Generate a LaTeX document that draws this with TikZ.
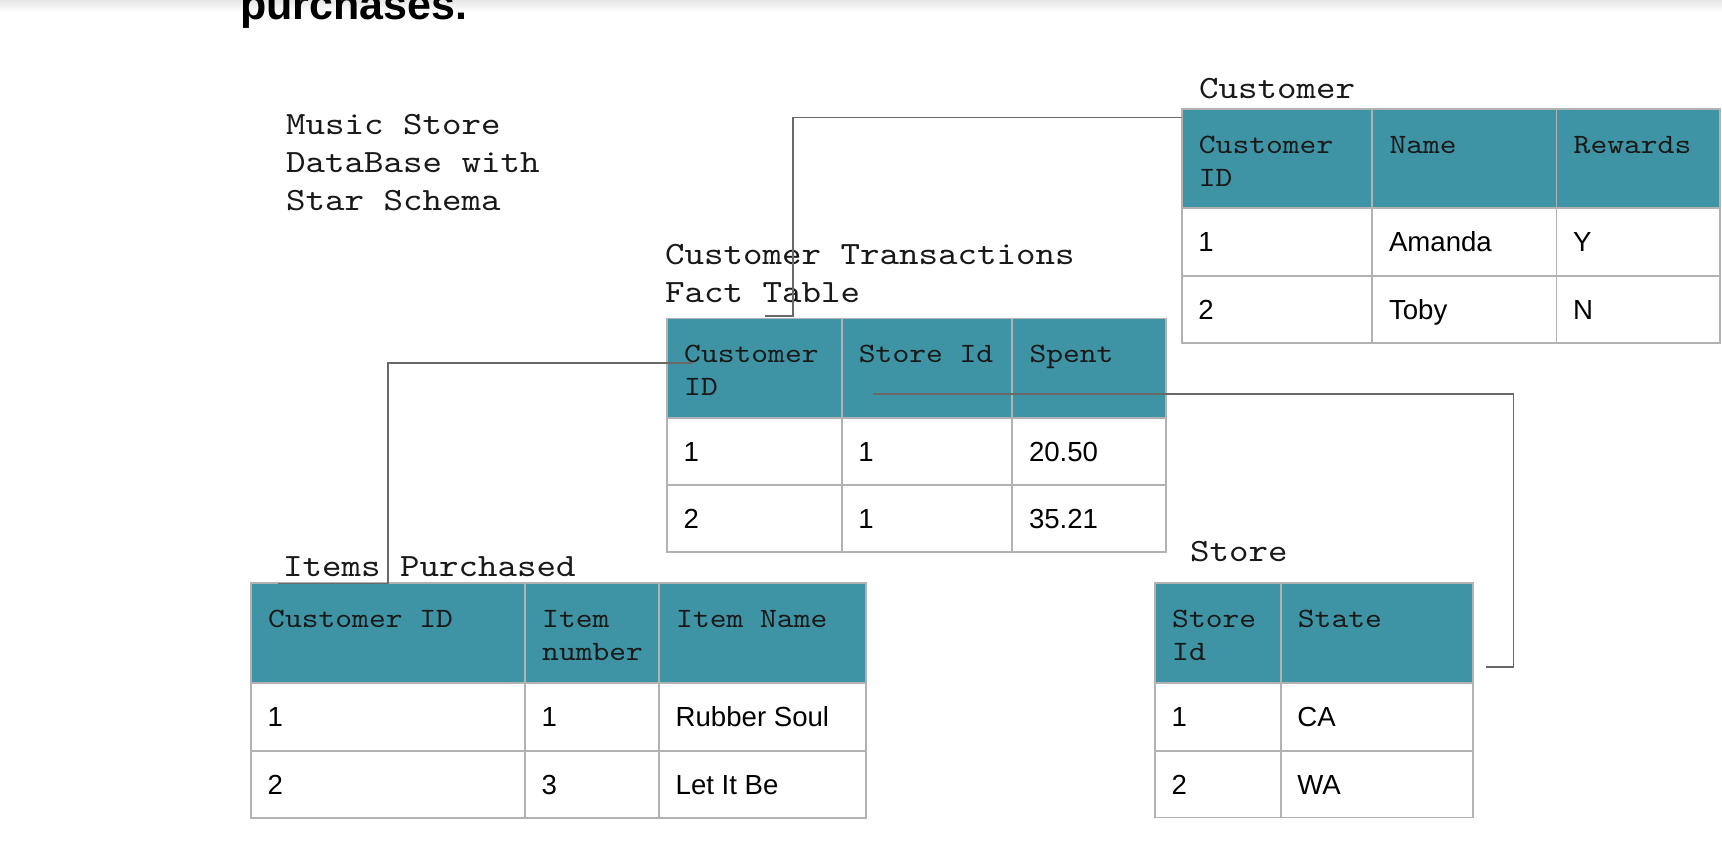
\documentclass[tikz,border=0pt]{standalone}
\usepackage{fontspec}
\setmainfont{Liberation Sans}
\newfontfamily\dbmono{lmmono10-regular.otf}[FakeStretch=1.143]
\definecolor{hdrteal}{RGB}{62,148,165}
\definecolor{gridgray}{RGB}{178,178,178}
\definecolor{conngray}{RGB}{105,105,105}
\tikzset{
  hcell/.style={draw=gridgray, fill=hdrteal, line width=1.8pt, inner sep=0pt, outer sep=0pt},
  bcell/.style={draw=gridgray, fill=white, line width=1.8pt, inner sep=0pt, outer sep=0pt},
  hcelltxt/.style={inner sep=0pt, anchor=base west, xshift=17pt, yshift=-44.5pt,
    font=\dbmono\fontsize{28}{32.7}\selectfont, text=black!90},
  bcelltxt/.style={inner sep=0pt, anchor=base west, xshift=16.5pt, yshift=-43.5pt,
    font=\fontsize{27.6}{32}\selectfont, text=black},
  lbl/.style={inner sep=0pt, anchor=base west, font=\dbmono\fontsize{32.5}{37.8}\selectfont, text=black!90},
  titletxt/.style={inner sep=0pt, anchor=base west, font=\bfseries\fontsize{43}{50}\selectfont},
  conn/.style={draw=conngray, line width=1.6pt},
}
\newcommand\dbcell[8]{%
  \node[#2, anchor=north west, minimum width=#5pt, minimum height=#6pt] (#1) at (#3,#4) {};
  \node[#2txt] (#1-a) at (#1.north west) {#7};
  \node[#2txt, yshift=-32.7pt] (#1-b) at (#1.north west) {#8};
}
\begin{document}
\begin{tikzpicture}[x=1pt,y=-1pt]
\useasboundingbox (0,0) rectangle (1722,858);
\clip (0,0) rectangle (1722,858);
\fill[white] (0,0) rectangle (1722,858);
\shade[top color=black!10, bottom color=white] (0,0) rectangle (1722,12);

% title
\node[titletxt] (title) at (240,20) {purchases.};

% labels
\node[lbl] (lblA1) at (286,135) {Music Store};
\node[lbl] (lblA2) at (286,172.7) {DataBase with};
\node[lbl] (lblA3) at (286,210.7) {Star Schema};
\node[lbl] (lblF1) at (665,264.5) {Customer Transactions};
\node[lbl] (lblF2) at (665,302.5) {Fact Table};
\node[lbl] (lblC) at (1199,98.3) {Customer};
\node[lbl] (lblI) at (283,576) {Items Purchased};
\node[lbl] (lblS) at (1190,561) {Store};

% Customer table
\dbcell{ct-h1}{hcell}{1181.7}{109.3}{190.6}{99}{Customer}{ID}
\dbcell{ct-h2}{hcell}{1372.3}{109.3}{184.2}{99}{Name}{}
\dbcell{ct-h3}{hcell}{1556.5}{109.3}{163.5}{99}{Rewards}{}
\dbcell{ct-r1c1}{bcell}{1181.7}{208.3}{190.6}{67.4}{1}{}
\dbcell{ct-r1c2}{bcell}{1372.3}{208.3}{184.2}{67.4}{Amanda}{}
\dbcell{ct-r1c3}{bcell}{1556.5}{208.3}{163.5}{67.4}{Y}{}
\dbcell{ct-r2c1}{bcell}{1181.7}{275.7}{190.6}{67}{2}{}
\dbcell{ct-r2c2}{bcell}{1372.3}{275.7}{184.2}{67}{Toby}{}
\dbcell{ct-r2c3}{bcell}{1556.5}{275.7}{163.5}{67}{N}{}

% Fact table
\dbcell{ft-h1}{hcell}{667}{318.5}{174.7}{99.8}{Customer}{ID}
\dbcell{ft-h2}{hcell}{841.7}{318.5}{170.6}{99.8}{Store Id}{}
\dbcell{ft-h3}{hcell}{1012.3}{318.5}{153.4}{99.8}{Spent}{}
\dbcell{ft-r1c1}{bcell}{667}{418.3}{174.7}{66.7}{1}{}
\dbcell{ft-r1c2}{bcell}{841.7}{418.3}{170.6}{66.7}{1}{}
\dbcell{ft-r1c3}{bcell}{1012.3}{418.3}{153.4}{66.7}{20.50}{}
\dbcell{ft-r2c1}{bcell}{667}{485}{174.7}{67.3}{2}{}
\dbcell{ft-r2c2}{bcell}{841.7}{485}{170.6}{67.3}{1}{}
\dbcell{ft-r2c3}{bcell}{1012.3}{485}{153.4}{67.3}{35.21}{}

% Items table
\dbcell{it-h1}{hcell}{251}{583.3}{274}{100}{Customer ID}{}
\dbcell{it-h2}{hcell}{525}{583.3}{134}{100}{Item}{number}
\dbcell{it-h3}{hcell}{659}{583.3}{206.7}{100}{Item Name}{}
\dbcell{it-r1c1}{bcell}{251}{683.3}{274}{67.7}{1}{}
\dbcell{it-r1c2}{bcell}{525}{683.3}{134}{67.7}{1}{}
\dbcell{it-r1c3}{bcell}{659}{683.3}{206.7}{67.7}{Rubber Soul}{}
\dbcell{it-r2c1}{bcell}{251}{751}{274}{67.3}{2}{}
\dbcell{it-r2c2}{bcell}{525}{751}{134}{67.3}{3}{}
\dbcell{it-r2c3}{bcell}{659}{751}{206.7}{67.3}{Let It Be}{}

% Store table
\dbcell{st-h1}{hcell}{1155}{583.3}{125.7}{100}{Store}{Id}
\dbcell{st-h2}{hcell}{1280.7}{583.3}{192.6}{100}{State}{}
\dbcell{st-r1c1}{bcell}{1155}{683.3}{125.7}{67.7}{1}{}
\dbcell{st-r1c2}{bcell}{1280.7}{683.3}{192.6}{67.7}{CA}{}
\dbcell{st-r2c1}{bcell}{1155}{751}{125.7}{66.5}{2}{}
\dbcell{st-r2c2}{bcell}{1280.7}{751}{192.6}{66.5}{WA}{}

% connectors
\coordinate (j1) at (792.7,316);
\coordinate (e1) at (765,316);
\draw[conn] ([yshift=-8.4pt]ct-h1.north west) -| (j1) -- (e1);

\coordinate (e2) at (278.3,583.3);
\coordinate (j2) at (387.7,363.3);
\coordinate (f2) at (693.3,363.3);
\draw[conn] (e2) -| (j2) -- (f2);

\coordinate (s3) at (873.3,394.3);
\coordinate (j3) at (1513.3,666.7);
\coordinate (e3) at (1486,666.7);
\draw[conn] (s3) -| (j3) -- (e3);
\end{tikzpicture}
\end{document}
